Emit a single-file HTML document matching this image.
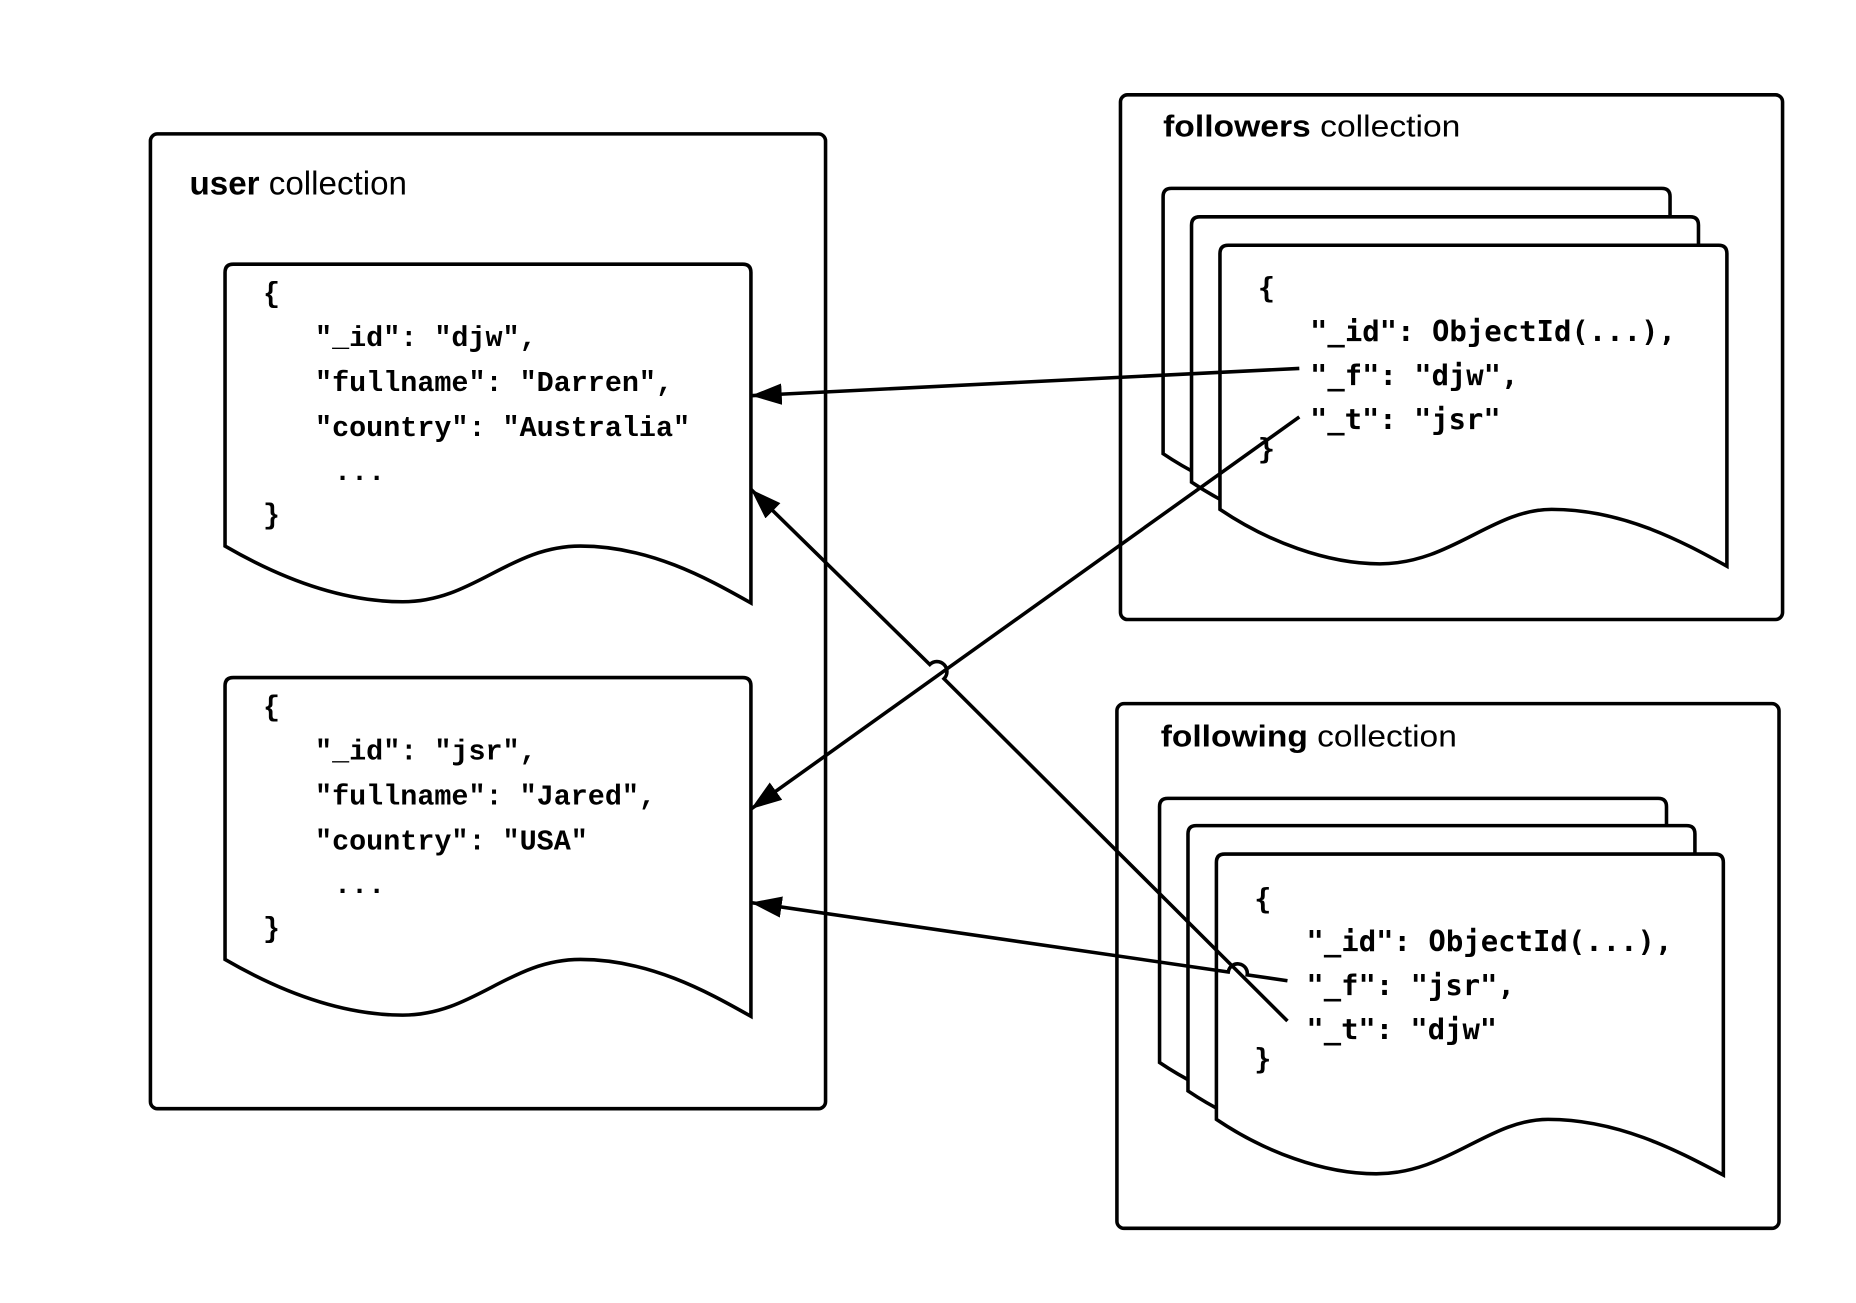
<!DOCTYPE html>
<html><head><meta charset="utf-8"><style>html,body{margin:0;padding:0;background:#fff}svg{display:block}</style></head>
<body>
<svg width="1856" height="1303" viewBox="0 0 1567 1100" xmlns="http://www.w3.org/2000/svg">
<defs>
<marker id="a" markerWidth="26" markerHeight="18" refX="26" refY="9" orient="auto" markerUnits="userSpaceOnUse">
<path d="M0,0 L26,9 L0,18 Z" fill="#000"/>
</marker>
</defs>
<g fill="none" stroke="#000" stroke-width="3">
<rect x="127" y="113" width="570" height="823" rx="6"/>
<rect x="946" y="80" width="559" height="443" rx="6"/>
<rect x="943" y="594" width="559" height="443" rx="6"/>
</g>
<g stroke="#000" stroke-width="3" fill="#fff">
<path d="M190,461 C240,490 290,508 340,508 C400,508 430,461 490,461 C550,461 600,490 634,509 L634,230 Q634,223 627,223 L197,223 Q190,223 190,230 Z"/>
<path d="M190,810 C240,839 290,857 340,857 C400,857 430,810 490,810 C550,810 600,839 634,858 L634,579 Q634,572 627,572 L197,572 Q190,572 190,579 Z"/>
<path d="M982,383 C1022,410 1072,428 1117,428 C1177,428 1212,383 1262,383 C1322,383 1372,410 1410,430 L1410,166 Q1410,159 1403,159 L989,159 Q982,159 982,166 Z"/>
<path d="M1006,407 C1046,434 1096,452 1141,452 C1201,452 1236,407 1286,407 C1346,407 1396,434 1434,454 L1434,190 Q1434,183 1427,183 L1013,183 Q1006,183 1006,190 Z"/>
<path d="M1030,430 C1070,457 1120,476 1165,476 C1225,476 1260,430 1310,430 C1370,430 1420,457 1458,478 L1458,214 Q1458,207 1451,207 L1037,207 Q1030,207 1030,214 Z"/>
<path d="M979,897 C1019,924 1069,942 1114,942 C1174,942 1209,897 1259,897 C1319,897 1369,924 1407,944 L1407,681 Q1407,674 1400,674 L986,674 Q979,674 979,681 Z"/>
<path d="M1003,921 C1043,948 1093,966 1138,966 C1198,966 1233,921 1283,921 C1343,921 1393,948 1431,968 L1431,704 Q1431,697 1424,697 L1010,697 Q1003,697 1003,704 Z"/>
<path d="M1027,945 C1067,972 1117,991 1162,991 C1222,991 1257,945 1307,945 C1367,945 1417,972 1455,992 L1455,728 Q1455,721 1448,721 L1034,721 Q1027,721 1027,728 Z"/>
</g>
<g font-family="Liberation Sans, sans-serif" font-size="26" fill="#000">
<text x="160" y="164" font-size="28"><tspan font-weight="bold">user</tspan> collection</text>
<text x="982" y="115" textLength="251" lengthAdjust="spacingAndGlyphs"><tspan font-weight="bold">followers</tspan> collection</text>
<text x="980" y="630" textLength="250" lengthAdjust="spacingAndGlyphs"><tspan font-weight="bold">following</tspan> collection</text>
</g>
<g font-family="Liberation Mono, monospace" font-weight="bold" font-size="24" fill="#000" xml:space="preserve">
<text x="222" y="255">{</text>
<text x="266" y="292">"_id": "djw",</text>
<text x="266" y="330">"fullname": "Darren",</text>
<text x="266" y="368">"country": "Australia"</text>
<text x="282" y="405">...</text>
<text x="222" y="442">}</text>
<text x="222" y="604">{</text>
<text x="266" y="641">"_id": "jsr",</text>
<text x="266" y="679">"fullname": "Jared",</text>
<text x="266" y="717">"country": "USA"</text>
<text x="282" y="754">...</text>
<text x="222" y="791">}</text>
</g>
<g font-family="DejaVu Sans Mono, monospace" font-weight="bold" font-size="24" fill="#000">
<text x="1062" y="251">{</text>
<text x="1106" y="288" textLength="309" lengthAdjust="spacingAndGlyphs">"_id": ObjectId(...),</text>
<text x="1106" y="325" textLength="176" lengthAdjust="spacingAndGlyphs">"_f": "djw",</text>
<text x="1106" y="362" textLength="161" lengthAdjust="spacingAndGlyphs">"_t": "jsr"</text>
<text x="1062" y="387">}</text>
<text x="1059" y="767">{</text>
<text x="1103" y="803" textLength="309" lengthAdjust="spacingAndGlyphs">"_id": ObjectId(...),</text>
<text x="1103" y="840" textLength="176" lengthAdjust="spacingAndGlyphs">"_f": "jsr",</text>
<text x="1103" y="877" textLength="161" lengthAdjust="spacingAndGlyphs">"_t": "djw"</text>
<text x="1059" y="902">}</text>
</g>
<g fill="none" stroke="#000" stroke-width="3">
<line x1="1097" y1="311" x2="634" y2="334" marker-end="url(#a)"/>
<line x1="1097" y1="352" x2="634" y2="683" marker-end="url(#a)"/>
<path d="M1087,862 L797,573 A8,8 0 0 0 785,561 L634,413" marker-end="url(#a)"/>
<path d="M1087,828 L1053,823 A8,8 0 0 0 1037,820.6 L634,762" marker-end="url(#a)"/>
</g>
</svg>
</body></html>
